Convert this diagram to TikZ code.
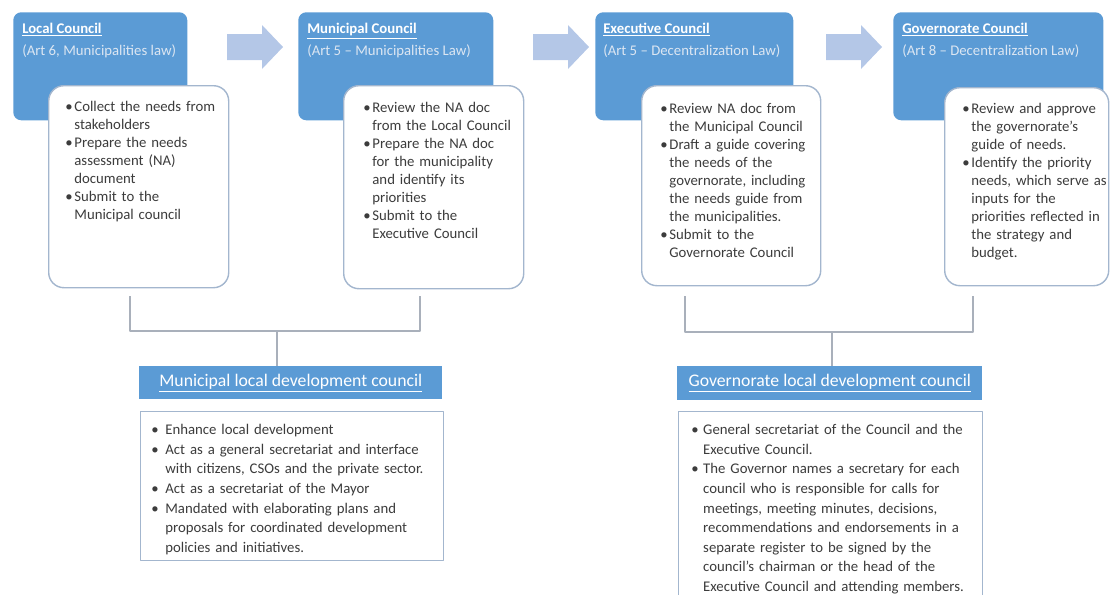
\documentclass[tikz,border=0pt]{standalone}
\usepackage{fontspec}
\setmainfont{Carlito}
\usepackage{enumitem}
\usetikzlibrary{positioning}
\definecolor{hdrblue}{HTML}{5B9BD5}
\definecolor{arrblue}{HTML}{B4C7E7}
\definecolor{boxline}{HTML}{A3B6CE}
\definecolor{brline}{HTML}{A9B0BB}
\definecolor{subtxt}{HTML}{DCE6F2}
\definecolor{bodytxt}{HTML}{3C3C3C}
\setlist[itemize]{label=\textbullet, nosep, labelindent=0pt, labelsep=0pt, align=left, leftmargin=6.5pt, labelwidth=6.5pt}
\tikzset{
  hdr/.style={fill=hdrblue, rounded corners=0.2cm, anchor=north west, inner sep=0pt, minimum height=108*\u},
  wbox/.style={draw=boxline, line width=1pt, fill=white, rounded corners=0.38cm, anchor=north west, inner sep=0pt},
  htxt/.style={anchor=north west, inner sep=0pt, align=left, text=white, font=\fontsize{10.5}{15.6}\selectfont},
  btxt/.style={anchor=north west, inner sep=0pt, text width=#1*\u, text=bodytxt, font=\fontsize{10.5}{12.8}\selectfont},
  ctxt/.style={btxt=#1, font=\fontsize{10.5}{13.9}\selectfont},
  bar/.style={fill=hdrblue, anchor=north west, inner sep=0pt, text=white, font=\fontsize{12.6}{14}\selectfont},
  cbox/.style={draw=boxline, line width=0.8pt, fill=white, anchor=north west, inner sep=0pt},
  brk/.style={draw=brline, line width=1pt}
}
\begin{document}
\def\u{0.025cm}
\begin{tikzpicture}[x=0.025cm, y=-0.025cm, line join=round]
  \useasboundingbox (0,0) rectangle (1111,594);
  % block arrows between the councils
  \foreach \ax in {227,533,826}
    \fill[arrblue] (\ax,34) -- ++(35,0) -- ++(0,-9) -- ++(21,22) -- ++(-21,22) -- ++(0,-9) -- ++(-35,0) -- cycle;
  % council headers
  \node[hdr, minimum width=174*\u] (h1) at (13,12) {};
  \node[hdr, minimum width=195*\u] (h2) at (298,12) {};
  \node[hdr, minimum width=198*\u] (h3) at (595,12) {};
  \node[hdr, minimum width=210*\u] (h4) at (893,12) {};
  \node[htxt] (h1t) at (22,23) {\underline{\textbf{Local Council}}\\\textcolor{subtxt}{(Art 6, Municipalities law)}};
  \node[htxt] (h2t) at (307,23) {\underline{\textbf{Municipal Council}}\\\textcolor{subtxt}{(Art 5 -- Municipalities Law)}};
  \node[htxt] (h3t) at (603,23) {\underline{\textbf{Executive Council}}\\\textcolor{subtxt}{(Art 5 -- Decentralization Law)}};
  \node[htxt] (h4t) at (902,23) {\underline{\textbf{Governorate Council}}\\\textcolor{subtxt}{(Art 8 -- Decentralization Law)}};
  % task boxes
  \node[wbox, minimum width=180*\u, minimum height=202*\u] (w1) at (48,85) {};
  \node[wbox, minimum width=180*\u, minimum height=203*\u] (w2) at (343,85) {};
  \node[wbox, minimum width=179*\u, minimum height=200*\u] (w3) at (641,85) {};
  \node[wbox, minimum width=164*\u, minimum height=198*\u] (w4) at (944,87) {};
  \node[btxt=160] (w1t) at (65,93) {\begin{itemize}
    \item Collect the needs from\\ stakeholders
    \item Prepare the needs\\ assessment (NA)\\ document
    \item Submit to the\\ Municipal council
  \end{itemize}};
  \node[btxt=160] (w2t) at (363,94) {\begin{itemize}
    \item Review the NA doc\\ from the Local Council
    \item Prepare the NA doc\\ for the municipality\\ and identify its\\ priorities
    \item Submit to the\\ Executive Council
  \end{itemize}};
  \node[btxt=155] (w3t) at (660,95) {\begin{itemize}
    \item Review NA doc from\\ the Municipal Council
    \item Draft a guide covering\\ the needs of the\\ governorate, including\\ the needs guide from\\ the municipalities.
    \item Submit to the\\ Governorate Council
  \end{itemize}};
  \node[btxt=145] (w4t) at (962,95) {\begin{itemize}
    \item Review and approve\\ the governorate's\\ guide of needs.
    \item Identify the priority\\ needs, which serve as\\ inputs for the\\ priorities reflected in\\ the strategy and\\ budget.
  \end{itemize}};
  % development councils
  \node[bar, minimum width=303*\u, minimum height=33*\u] (m1) at (139,366) {\underline{Municipal local development council}};
  \node[bar, minimum width=305*\u, minimum height=34*\u] (m2) at (677,366) {\underline{Governorate local development council}};
  \node[cbox, minimum width=303*\u, minimum height=149*\u] (c1) at (140,411) {};
  \node[cbox, minimum width=304*\u, minimum height=200*\u] (c2) at (678,411) {};
  \node[ctxt=285] (c1t) at (151,415) {\begin{itemize}[leftmargin=10pt, labelwidth=10pt]
    \item Enhance local development
    \item Act as a general secretariat and interface\\ with citizens, CSOs and the private sector.
    \item Act as a secretariat of the Mayor
    \item Mandated with elaborating plans and\\ proposals for coordinated development\\ policies and initiatives.
  \end{itemize}};
  \node[ctxt=285] (c2t) at (691,415) {\begin{itemize}[leftmargin=8.5pt, labelwidth=8.5pt]
    \item General secretariat of the Council and the\\ Executive Council.
    \item The Governor names a secretary for each\\ council who is responsible for calls for\\ meetings, meeting minutes, decisions,\\ recommendations and endorsements in a\\ separate register to be signed by the\\ council's chairman or the head of the\\ Executive Council and attending members.
  \end{itemize}};
  % brackets
  \coordinate (b1l) at (130,296);
  \coordinate (b1r) at (420,296);
  \coordinate (b1m) at (277,331);
  \coordinate (b2l) at (685,296);
  \coordinate (b2r) at (973,296);
  \coordinate (b2m) at (832,332);
  \draw[brk] (b1l) |- (b1m) -| (b1r);
  \draw[brk] (b1m) -- (b1m |- m1.north);
  \draw[brk] (b2l) |- (b2m) -| (b2r);
  \draw[brk] (b2m) -- (b2m |- m2.north);
\end{tikzpicture}
\end{document}
